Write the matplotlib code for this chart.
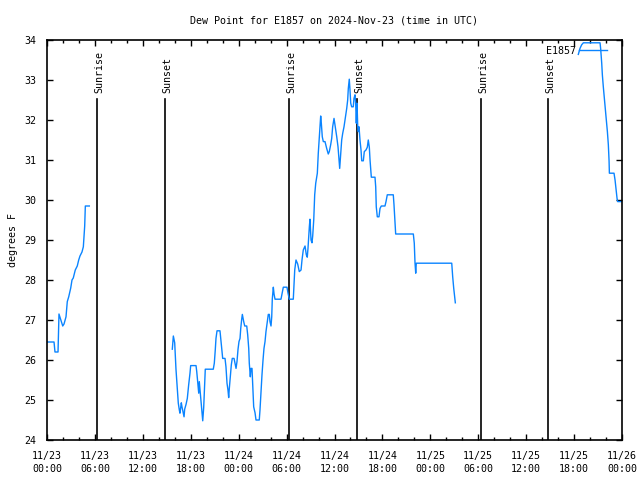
import numpy as np
import matplotlib
matplotlib.use("Agg")
import matplotlib.pyplot as plt

# hours since 2024-11-23 00:00 UTC, dew point in F
hours_1 = [0.0, 0.88, 1.0, 1.38, 1.5, 1.97, 2.13, 2.38, 2.54, 2.72, 2.97, 3.13, 3.29,
           3.54, 3.79, 3.97, 4.13, 4.38, 4.55, 4.72, 4.80, 5.30]
dewpt_1 = [26.45, 26.45, 26.2, 26.2, 27.15, 26.85, 26.9, 27.08, 27.46, 27.58, 27.8, 28.0,
           28.05, 28.25, 28.35, 28.5, 28.6, 28.7, 28.83, 29.35, 29.85, 29.85]

hours_2 = [15.69, 15.82, 15.99, 16.07, 16.15, 16.32, 16.44, 16.57, 16.65, 16.82, 16.90,
           17.07, 17.16, 17.24, 17.41, 17.57, 17.74, 17.91, 17.99, 18.66, 18.75, 18.87,
           19.0, 19.07, 19.16, 19.28, 19.41, 19.50, 19.62, 19.75, 19.82, 20.82, 20.95,
           21.07, 21.16, 21.29, 21.66, 21.75, 21.88, 22.0, 22.29, 22.41, 22.54, 22.66,
           22.75, 22.83, 22.95, 23.08, 23.20, 23.42, 23.58, 23.67, 23.79, 23.92, 24.04,
           24.17, 24.26, 24.38, 24.46, 24.54, 24.63, 24.76, 25.01, 25.13, 25.26, 25.33,
           25.46, 25.54, 25.67, 25.76, 25.88, 26.05, 26.17, 26.58, 26.67, 26.80, 26.92,
           27.05, 27.17, 27.30, 27.42, 27.59, 27.71, 27.84, 27.92, 28.05, 28.14, 28.21,
           28.34, 28.43, 28.55, 29.30, 29.43, 29.59, 30.05, 30.18, 30.34, 30.84, 31.02,
           31.18, 31.39, 31.59, 31.81, 31.93, 32.09, 32.31, 32.47, 32.59, 32.68, 32.85,
           32.93, 33.06, 33.18, 33.27, 33.40, 33.52, 33.65, 33.85, 33.97, 34.15, 34.27,
           34.35, 34.47, 34.60, 34.81, 35.02, 35.22, 35.35, 35.52, 35.65, 35.77, 35.94,
           36.06, 36.28, 36.44, 36.56, 36.65, 36.78, 36.90, 37.03, 37.19, 37.35, 37.53,
           37.65, 37.73, 37.85, 37.94, 38.03, 38.15, 38.35, 38.44, 38.57, 38.65, 38.73,
           38.82, 38.91, 38.98, 39.07, 39.19, 39.32, 39.41, 39.61, 39.73, 39.94, 40.11,
           40.23, 40.36, 40.45, 40.53, 40.61, 41.07, 41.16, 41.23, 41.36, 41.57, 41.70,
           41.86, 42.32, 42.45, 42.61, 43.36, 43.45, 43.58, 43.66, 45.87, 45.99, 46.08,
           46.17, 46.24, 50.68, 50.80, 50.93, 51.05, 51.13]
dewpt_2 = [26.27, 26.6, 26.43, 26.1, 25.77, 25.29, 24.92, 24.75, 24.67, 24.93, 24.83,
           24.67, 24.58, 24.77, 24.89, 25.04, 25.38, 25.68, 25.86, 25.86, 25.71, 25.46,
           25.17, 25.46, 25.25, 24.98, 24.65, 24.48, 24.81, 25.42, 25.77, 25.77, 25.92,
           26.25, 26.54, 26.73, 26.73, 26.54, 26.25, 26.04, 26.04, 25.83, 25.42, 25.25,
           25.06, 25.29, 25.58, 25.88, 26.04, 26.04, 25.88, 25.79, 25.96, 26.27, 26.46,
           26.54, 26.79, 27.02, 27.14, 27.05, 26.96, 26.85, 26.85, 26.63, 26.29, 25.92,
           25.58, 25.79, 25.79, 25.38, 24.83, 24.68, 24.5, 24.5, 24.75, 25.21, 25.63,
           26.0, 26.29, 26.46, 26.71, 26.96, 27.14, 27.14, 26.96, 26.85, 27.08, 27.52,
           27.82, 27.65, 27.52, 27.52, 27.65, 27.82, 27.82, 27.67, 27.52, 27.52, 28.25,
           28.5, 28.4, 28.21, 28.25, 28.5, 28.75, 28.85, 28.63, 28.57, 28.79, 29.33,
           29.52, 29.0, 28.93, 29.1, 29.5, 30.13, 30.42, 30.67, 31.17, 31.75, 32.1,
           31.92, 31.58, 31.46, 31.46, 31.29, 31.15, 31.21, 31.38, 31.54, 31.83, 32.04,
           31.88, 31.58, 31.33, 31.0, 30.79, 31.17, 31.5, 31.67, 31.83, 32.04, 32.29,
           32.5, 32.79, 33.02, 32.75, 32.42, 32.33, 32.33, 32.54, 32.63, 32.42, 31.92,
           32.42, 31.83, 31.71, 31.83, 31.5, 31.25, 30.98, 30.98, 31.21, 31.25, 31.32,
           31.5, 31.32, 31.0, 30.79, 30.57, 30.57, 30.33, 29.83, 29.58, 29.58, 29.79,
           29.85, 29.85, 29.96, 30.13, 30.13, 29.88, 29.42, 29.15, 29.15, 28.92, 28.43,
           28.17, 28.42, 28.42, 28.08, 27.79, 27.57, 27.43]

hours_3 = [66.53, 66.74, 66.95, 67.16, 69.25, 69.33, 69.46, 69.54, 69.66, 69.84, 70.0,
           70.17, 70.29, 70.38, 70.42, 71.0, 71.13, 71.25, 71.38, 71.46, 72.0]
dewpt_3 = [33.64, 33.79, 33.88, 33.93, 33.93, 33.78, 33.42, 33.13, 32.83, 32.42, 32.08,
           31.71, 31.38, 30.98, 30.67, 30.67, 30.5, 30.29, 30.04, 29.96, 29.96]

sun_hours = [6.26, 14.78, 30.30, 38.82, 54.35, 62.73]
sun_names = ["Sunrise", "Sunset", "Sunrise", "Sunset", "Sunrise", "Sunset"]

tick_hours = list(range(0, 73, 6))
tick_labels = ["11/23\n00:00", "11/23\n06:00", "11/23\n12:00", "11/23\n18:00",
               "11/24\n00:00", "11/24\n06:00", "11/24\n12:00", "11/24\n18:00",
               "11/25\n00:00", "11/25\n06:00", "11/25\n12:00", "11/25\n18:00",
               "11/26\n00:00"]

plt.rcParams['font.family'] = ['DejaVu Sans Mono']
fs = 7.2

x = hours_1 + [np.nan] + hours_2 + [np.nan] + hours_3
y = dewpt_1 + [np.nan] + dewpt_2 + [np.nan] + dewpt_3

fig = plt.figure(figsize=(6.4, 4.8), dpi=100)
ax = fig.add_axes([47 / 640, 40 / 480, 575 / 640, 400 / 480])

for h, name in zip(sun_hours, sun_names):
    ax.plot([h, h], [24, 32.52], color='black', lw=1.2)
    ax.text(h + 0.25, 32.68, name, rotation=90, ha='center', va='bottom', fontsize=fs)

ax.plot(x, y, color='#0a84ff', lw=1.0, label='E1857')

ax.set_xlim(0, 72)
ax.set_ylim(24, 34)
ax.set_xticks(tick_hours)
ax.set_xticklabels(tick_labels, fontsize=fs, linespacing=1.35)
ax.set_xticks(range(0, 73, 2), minor=True)
ax.set_yticks(range(24, 35))
ax.tick_params(axis='y', labelsize=fs, pad=8)
ax.tick_params(axis='x', pad=8)
ax.tick_params(which='both', direction='in', top=True, right=True, width=1)
ax.tick_params(which='major', length=4)
ax.tick_params(which='minor', length=2.5)
for s in ax.spines.values():
    s.set_linewidth(1.2)

ax.set_ylabel('degrees F', fontsize=fs, labelpad=4)
ax.set_title('Dew Point for E1857 on 2024-Nov-23 (time in UTC)', fontsize=fs, pad=12)
ax.legend(loc='upper right', frameon=False, markerfirst=False, fontsize=fs,
          handlelength=2.8, handletextpad=0.3, borderaxespad=0.2,
          bbox_to_anchor=(0.985, 1.0))

fig.savefig('out.png', dpi=100)
